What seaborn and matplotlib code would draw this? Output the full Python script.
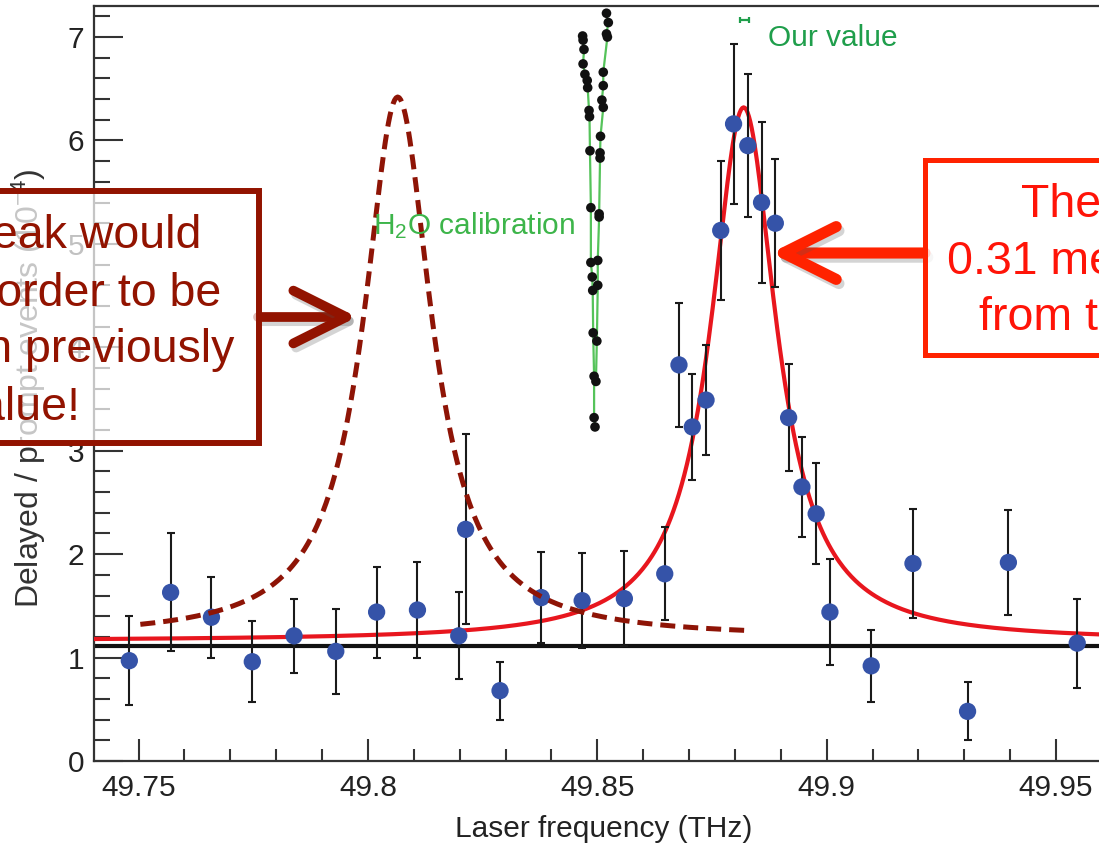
import numpy as np
import pandas as pd
import matplotlib
matplotlib.use("Agg")
import matplotlib.pyplot as plt
import matplotlib.patheffects as pe
from matplotlib.patches import Rectangle
from matplotlib.ticker import MultipleLocator, FuncFormatter
import seaborn as sns

# --- resonance scan: delayed / prompt K-alpha events vs laser frequency ---
freq_thz = [49.7480, 49.7570, 49.7659, 49.7748, 49.7839, 49.7930, 49.8019, 49.8108,
            49.8198, 49.8213, 49.8288, 49.8378, 49.8467, 49.8559, 49.8647, 49.8678,
            49.8707, 49.8737, 49.8769, 49.8797, 49.8828, 49.8858, 49.8888, 49.8917,
            49.8946, 49.8977, 49.9007, 49.9097, 49.9188, 49.9307, 49.9396, 49.9546]
ratio = [0.97, 1.63, 1.39, 0.96, 1.21, 1.06, 1.44, 1.46, 1.21, 2.24, 0.68, 1.58,
         1.55, 1.57, 1.81, 3.83, 3.23, 3.49, 5.13, 6.16, 5.95, 5.40, 5.20, 3.32,
         2.65, 2.39, 1.44, 0.92, 1.91, 0.48, 1.92, 1.14]
ratio_err = [0.43, 0.57, 0.39, 0.39, 0.36, 0.41, 0.44, 0.46, 0.42, 0.92, 0.28, 0.44,
             0.46, 0.46, 0.45, 0.60, 0.51, 0.53, 0.67, 0.77, 0.69, 0.78, 0.62, 0.52,
             0.48, 0.49, 0.51, 0.35, 0.53, 0.28, 0.51, 0.43]

# flat background level
background = 1.11

# Lorentzian fit of the measured resonance
fit_center, fit_hwhm, fit_amp, fit_base = 49.8819, 0.0087, 5.16, 1.16
# where the resonance would sit for the previously accepted proton radius
exp_center, exp_hwhm, exp_amp, exp_base = 49.8065, 0.0090, 5.23, 1.19
exp_range = [49.7504, 49.8828]

# water-line calibration scans (two passes)
cal_a_x = [49.8468, 49.8469, 49.8471, 49.8469, 49.8473, 49.8478, 49.8479, 49.8482, 49.8483,
           49.8484, 49.8486, 49.8486, 49.8489, 49.8490, 49.8491, 49.8493, 49.8493, 49.8495]
cal_a_y = [7.01, 6.97, 6.88, 6.74, 6.64, 6.58, 6.51, 6.29, 6.23,
           5.90, 5.35, 4.82, 4.68, 4.55, 4.14, 3.72, 3.32, 3.23]
cal_b_x = [49.8520, 49.8524, 49.8520, 49.8522, 49.8513, 49.8513, 49.8510, 49.8513, 49.8507,
           49.8506, 49.8506, 49.8504, 49.8504, 49.8501, 49.8501, 49.8499, 49.8497]
cal_b_y = [7.23, 7.14, 7.03, 7.00, 6.66, 6.53, 6.39, 6.32, 6.04,
           5.88, 5.83, 5.29, 5.26, 4.84, 4.60, 4.06, 3.67]

# our line position with its uncertainty
our_value_x, our_value_err, our_value_y = 49.8821, 0.0010, 7.16

x_tick_step, x_minor_step = 0.05, 0.01
y_tick_step, y_minor_step = 1, 0.2

left_box_lines = ["The peak would", "have to be here in order to be",
                  "consistent with the known previously", "accepted value!"]
right_box_lines = ["The peak is", "0.31 meV away", "from the expected position"]


def lorentz(x, c, g, a, b):
    return b + a / (1.0 + ((x - c) / g) ** 2)


sns.set_style("ticks")
plt.rcParams["font.family"] = ["Liberation Sans", "DejaVu Sans"]
plt.rcParams["mathtext.fontset"] = "custom"
plt.rcParams["mathtext.rm"] = "Liberation Sans"
plt.rcParams["mathtext.it"] = "Liberation Sans:italic"
plt.rcParams["mathtext.bf"] = "Liberation Sans:bold"

W, H = 1099, 848
fig = plt.figure(figsize=(W / 100, H / 100), dpi=100)
fig.patch.set_facecolor("white")

xlim = (49.7403, 49.975)
ylim = (0, 7.30)
px_per_thz = 4588
ax = fig.add_axes([94 / W, 1 - 761 / H, (xlim[1] - xlim[0]) * px_per_thz / W, 755 / H])
ax.set_xlim(*xlim)
ax.set_ylim(*ylim)

# background level
ax.axhline(background, color="#111111", lw=3.0, zorder=2)

# fitted resonance
xf = np.linspace(xlim[0], xlim[1], 800)
fit_df = pd.DataFrame({"f": xf, "y": lorentz(xf, fit_center, fit_hwhm, fit_amp, fit_base)})
sns.lineplot(data=fit_df, x="f", y="y", ax=ax, color="#E8161E", lw=3.0, zorder=3)

# calibration scans
cal_green = "#55C35A"
ax.plot(cal_a_x, cal_a_y, color=cal_green, lw=1.6, zorder=3)
ax.plot(cal_b_x, cal_b_y, color=cal_green, lw=1.6, zorder=3)
cal_df = pd.DataFrame({"f": cal_a_x + cal_b_x, "y": cal_a_y + cal_b_y})
sns.scatterplot(data=cal_df, x="f", y="y", ax=ax, color="#111111", s=48,
                edgecolor="none", zorder=4)

# data with error bars
ax.errorbar(freq_thz, ratio, yerr=ratio_err, fmt="none", ecolor="#1a1a1a",
            elinewidth=1.5, capsize=2.6, capthick=1.5, zorder=4)
data_df = pd.DataFrame({"f": freq_thz, "y": ratio})
sns.scatterplot(data=data_df, x="f", y="y", ax=ax, color="#3553A8", s=155,
                edgecolor="none", zorder=5)

# expected resonance position
xe = np.linspace(exp_range[0], exp_range[1], 400)
exp_df = pd.DataFrame({"f": xe, "y": lorentz(xe, exp_center, exp_hwhm, exp_amp, exp_base)})
sns.lineplot(data=exp_df, x="f", y="y", ax=ax, color="#8E1406", lw=3.6,
             dashes=False, zorder=6)
ax.lines[-1].set_dashes((3.0, 1.6))

# our value marker and labels
green_dark = "#1F9E4B"
ax.errorbar([our_value_x], [our_value_y], xerr=[our_value_err], fmt="none",
            ecolor=green_dark, elinewidth=1.6, capsize=2.2, capthick=1.6, zorder=6)
ax.text(49.8872, 6.91, "Our value", color=green_dark, fontsize=21.5,
        ha="left", va="baseline", zorder=6)
ax.text(49.8011, 5.18, "H$_2$O calibration", color="#3DB54A", fontsize=21.5,
        ha="left", va="center", zorder=6)

# axes styling
ax.set_xlabel("Laser frequency (THz)", fontsize=21.5, color="#222222")
ax.set_ylabel("Delayed / prompt events (10$^{-4}$)", fontsize=23, color="#333333")
ax.xaxis.set_label_coords((604 - 94) / ((xlim[1] - xlim[0]) * px_per_thz), -0.072)
ax.yaxis.set_label_coords(-0.0427, 0.494)

ax.xaxis.set_major_locator(MultipleLocator(x_tick_step))
ax.xaxis.set_minor_locator(MultipleLocator(x_minor_step))
ax.yaxis.set_major_locator(MultipleLocator(y_tick_step))
ax.yaxis.set_minor_locator(MultipleLocator(y_minor_step))
ax.xaxis.set_major_formatter(FuncFormatter(lambda v, _: f"{v:.2f}".rstrip("0").rstrip(".")))

ax.tick_params(axis="x", which="major", direction="in", length=16, width=1.5,
               pad=9, labelsize=21.5, colors="#333333", labelcolor="#222222")
ax.tick_params(axis="x", which="minor", direction="in", length=8.6, width=1.5,
               colors="#333333")
ax.tick_params(axis="y", which="major", direction="in", length=21, width=1.5,
               pad=7, labelsize=21.5, colors="#333333", labelcolor="#222222")
ax.tick_params(axis="y", which="minor", direction="in", length=11.5, width=1.5,
               colors="#333333")
for side in ["left", "bottom", "top", "right"]:
    ax.spines[side].set_linewidth(1.6)
    ax.spines[side].set_color("#333333")


def fx(px):
    return px / W


def fy(py):
    return 1 - py / H


# left annotation box
dark_red = "#921300"
fig.add_artist(Rectangle((fx(-320), fy(443)), fx(579), (443 - 191) / H,
                         transform=fig.transFigure, facecolor=(1, 1, 1, 0.72),
                         edgecolor=dark_red, lw=4.3, zorder=10))
left_ends = [201, 221, 234, 80]
left_base = [248, 306, 362, 420]
for line, xe_, yb in zip(left_box_lines, left_ends, left_base):
    fig.text(fx(xe_), fy(yb), line, color=dark_red, fontsize=33.5,
             ha="right", va="baseline", zorder=11)

# right annotation box
bright_red = "#FF2200"
fig.add_artist(Rectangle((fx(924.5), fy(355)), fx(400), (355 - 160) / H,
                         transform=fig.transFigure, facecolor=(1, 1, 1, 0.8),
                         edgecolor=bright_red, lw=3.6, zorder=10))
right_starts = [1021, 947, 979]
right_base = [217, 274, 330]
for line, xs_, yb in zip(right_box_lines, right_starts, right_base):
    fig.text(fx(xs_), fy(yb), line, color="#FF1408", fontsize=33.5,
             ha="left", va="baseline", zorder=11)

# arrows from the boxes to the curves
shadow = [pe.SimpleLineShadow(offset=(2, -3), shadow_color="#555555", alpha=0.25),
          pe.Normal()]
ax.annotate("", xy=(fx(357), fy(317)), xytext=(fx(258), fy(317)),
            xycoords="figure fraction", textcoords="figure fraction",
            annotation_clip=False, zorder=12,
            arrowprops=dict(arrowstyle="->, head_length=0.4, head_width=0.2",
                            mutation_scale=95, lw=7, color=dark_red,
                            shrinkA=0, shrinkB=0, capstyle="round",
                            joinstyle="round", path_effects=shadow))
ax.annotate("", xy=(fx(771), fy(253)), xytext=(fx(925), fy(253)),
            xycoords="figure fraction", textcoords="figure fraction",
            annotation_clip=False, zorder=12,
            arrowprops=dict(arrowstyle="->, head_length=0.4, head_width=0.2",
                            mutation_scale=95, lw=8, color="#FF2200",
                            shrinkA=0, shrinkB=0, capstyle="round",
                            joinstyle="round", path_effects=shadow))

fig.savefig("out.png", dpi=100)
